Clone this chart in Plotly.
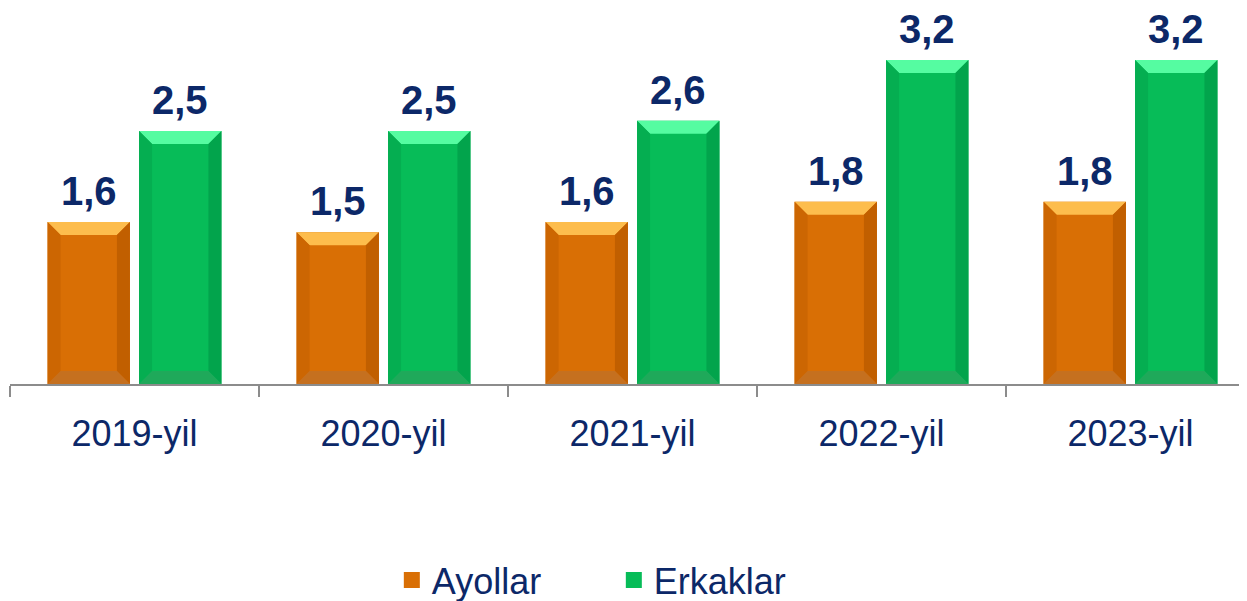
import plotly.graph_objects as go

categories = ["2019-yil", "2020-yil", "2021-yil", "2022-yil", "2023-yil"]
ayollar = [1.6, 1.5, 1.6, 1.8, 1.8]
erkaklar = [2.5, 2.5, 2.6, 3.2, 3.2]
series_names = ["Ayollar", "Erkaklar"]

FONT = "Liberation Sans, Arial, sans-serif"
NAVY = "#0C2868"
x_idx = list(range(len(categories)))

BARGAP = 0.265
GROUPGAP = 0.1
slot = (1 - BARGAP) / 2
half_w = slot * (1 - GROUPGAP) / 2

PX_PER_UNIT = 101.25
PLOT_H = 376

styles = [
    dict(face="#D96F05", top="#FDBD4D", left="#CC6602", right="#C15F00", bottom="#C5701F"),
    dict(face="#07BC58", top="#55FCA1", left="#05AE51", right="#02A44C", bottom="#1FA95A"),
]

fig = go.Figure()
for k, (name, vals) in enumerate(zip(series_names, [ayollar, erkaklar])):
    fig.add_trace(go.Bar(
        name=name, x=x_idx, y=vals, showlegend=False,
        marker=dict(color=styles[k]["face"], line=dict(width=0)),
    ))
# legend entries with larger square symbols
for k, name in enumerate(series_names):
    fig.add_trace(go.Scatter(
        name=name, x=[None], y=[None], mode="markers",
        marker=dict(symbol="square", size=16, color=styles[k]["face"],
                    line=dict(width=0)),
    ))

# bevel facets (data coordinates)
bev_x = 13 / 249.0
bev_y = 13 / PX_PER_UNIT
shapes = []
annotations = []


def path(pts):
    return "M " + " L ".join(f"{px},{py}" for px, py in pts) + " Z"


for k, vals in enumerate([ayollar, erkaklar]):
    off = (k - 0.5) * slot
    st = styles[k]
    for i, v in enumerate(vals):
        c = i + off
        x0, x1 = c - half_w, c + half_w
        y0, y1 = 0, v
        shapes.append(dict(type="path", xref="x", yref="y", line=dict(width=0), fillcolor=st["top"],
                           path=path([(x0, y1), (x1, y1), (x1 - bev_x, y1 - bev_y), (x0 + bev_x, y1 - bev_y)])))
        shapes.append(dict(type="path", xref="x", yref="y", line=dict(width=0), fillcolor=st["left"],
                           path=path([(x0, y1), (x0 + bev_x, y1 - bev_y), (x0 + bev_x, y0 + bev_y), (x0, y0)])))
        shapes.append(dict(type="path", xref="x", yref="y", line=dict(width=0), fillcolor=st["right"],
                           path=path([(x1, y1), (x1 - bev_x, y1 - bev_y), (x1 - bev_x, y0 + bev_y), (x1, y0)])))
        shapes.append(dict(type="path", xref="x", yref="y", line=dict(width=0), fillcolor=st["bottom"],
                           path=path([(x0, y0), (x0 + bev_x, y0 + bev_y), (x1 - bev_x, y0 + bev_y), (x1, y0)])))
        annotations.append(dict(x=c, y=v, xref="x", yref="y", text=f"{v:.1f}".replace(".", ","),
                                showarrow=False, yanchor="bottom", yshift=8, borderpad=0,
                                font=dict(family=FONT, size=40, color=NAVY, weight="bold")))

fig.update_layout(
    width=1247, height=601,
    margin=dict(l=2, r=0, t=0, b=601 - PLOT_H, autoexpand=False),
    paper_bgcolor="white", plot_bgcolor="white",
    barmode="group", bargap=BARGAP, bargroupgap=GROUPGAP,
    shapes=shapes, annotations=annotations,
    font=dict(family=FONT, color=NAVY),
    xaxis=dict(
        range=[-0.5, -0.5 + 1245 / 249.0],
        tickmode="array", tickvals=x_idx, ticktext=categories,
        ticks="outside", ticklen=17, tickcolor="rgba(0,0,0,0)",
        tickfont=dict(family=FONT, size=36, color=NAVY),
        showline=True, linecolor="#8C8C8C", linewidth=2, showgrid=False, zeroline=False,
        minor=dict(tickmode="linear", tick0=-0.5, dtick=1, ticks="outside", ticklen=11,
                   tickcolor="#8C8C8C", tickwidth=2, showgrid=False),
    ),
    yaxis=dict(range=[0, PLOT_H / PX_PER_UNIT], visible=False),
    legend=dict(orientation="h", x=0.485, xanchor="center", y=-0.442, yanchor="top",
                font=dict(family=FONT, size=36, color=NAVY), entrywidth=177),
    showlegend=True,
)

fig.write_html("out.html")
